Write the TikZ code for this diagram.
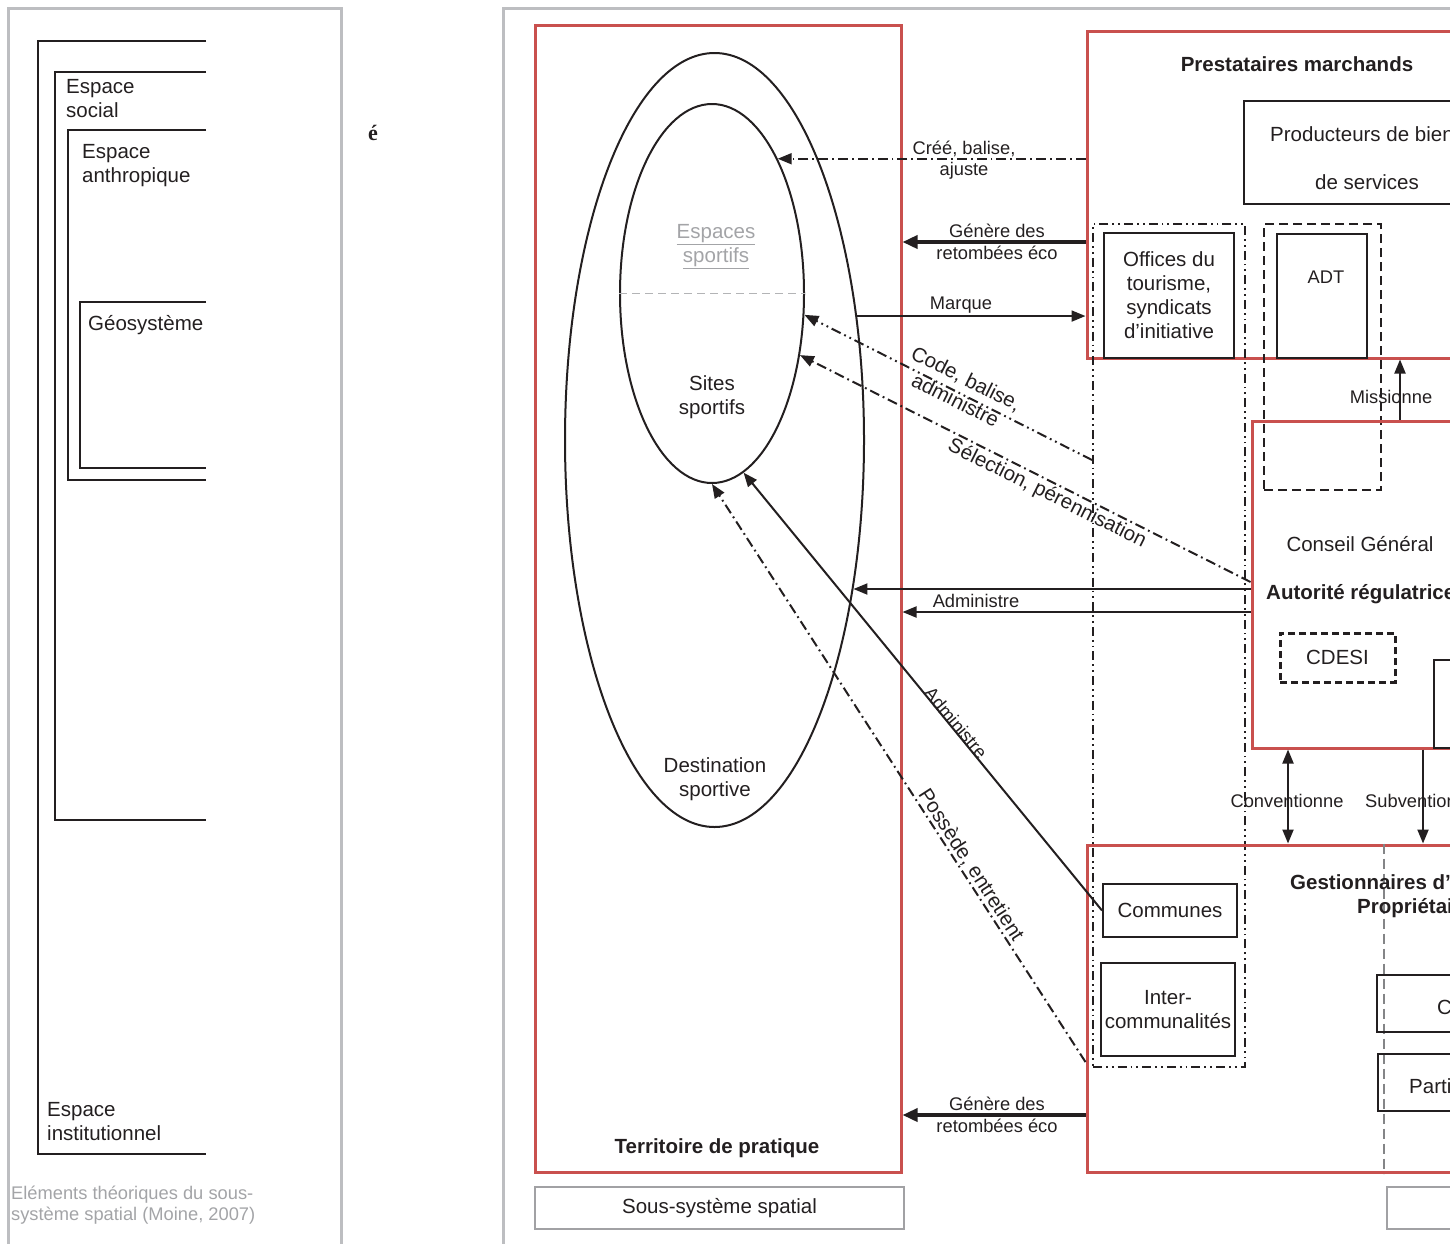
\documentclass[tikz,border=0pt]{standalone}
\usepackage{fontspec}
\setmainfont{Liberation Sans}
\newfontfamily\accentfont{Liberation Serif}
\usepackage{tikz}
\usepackage{xcolor}
\usetikzlibrary{arrows.meta,shapes.geometric}
\definecolor{MapRed}{HTML}{C9504E}
\definecolor{MapGrey}{HTML}{BDBEC1}
\definecolor{MapSoft}{HTML}{A3A4A7}
\definecolor{MapDash}{HTML}{B3B4B6}
\definecolor{MapInk}{HTML}{231F20}
\newcommand{\mainsize}{\fontsize{20.5}{24}\selectfont}
\newcommand{\labsize}{\fontsize{18.3}{21.5}\selectfont}

\begin{document}
\begin{tikzpicture}[
    x=1pt, y=-1pt,
    txt/.style={font=\mainsize, align=center, inner sep=0pt, text=MapInk},
    lab/.style={font=\labsize, align=center, inner sep=0pt, text=MapInk},
    titletxt/.style={txt, font=\mainsize\bfseries},
    frame/.style={draw=MapGrey, line width=3pt},
    greybox/.style={rectangle, draw=MapGrey!85!black, line width=2.2pt, inner sep=0pt},
    redbox/.style={rectangle, draw=MapRed, line width=3pt, inner sep=0pt},
    blackbox/.style={rectangle, draw=MapInk, line width=2pt, inner sep=0pt},
    spacebox/.style={draw=MapInk, line width=2pt},
    ring/.style={ellipse, draw=MapInk, line width=2pt, inner sep=0pt},
    dashbox/.style={blackbox, dash pattern=on 9pt off 5pt},
    thickdash/.style={blackbox, line width=3pt, dash pattern=on 7pt off 4pt},
    groupbox/.style={blackbox, dash pattern=on 9pt off 4pt on 1.8pt off 4pt on 1.8pt off 4pt},
    dashdot/.style={dash pattern=on 10pt off 4pt on 1.8pt off 4pt},
    dashdotdot/.style={dash pattern=on 10pt off 4pt on 1.8pt off 4pt on 1.8pt off 4pt},
    arrow/.style={-{Triangle[length=14pt,width=11pt]}, line width=2pt, draw=MapInk},
    bigarrow/.style={arrow, line width=3.5pt, -{Triangle[length=15pt,width=13pt]}}
]
\useasboundingbox (0,0) rectangle (1450,1243);
\clip (0,0) rectangle (1450,1243);

% left panel
\draw[frame] (8,1260) -- (8,8) -- (341,8) -- (341,1260);
\draw[spacebox] (206,41) -- (38,41) -- (38,1154) -- (206,1154);
\draw[spacebox] (206,72) -- (55,72) -- (55,820) -- (206,820);
\draw[spacebox] (206,130) -- (68,130) -- (68,480) -- (206,480);
\draw[spacebox] (206,302) -- (80,302) -- (80,468) -- (206,468);
\node[txt, align=left, anchor=west] (social) at (66,99) {Espace\\social};
\node[txt, align=left, anchor=west] (anthro) at (82,166) {Espace\\anthropique};
\node[txt, align=left, anchor=west] (geo) at (88,325) {Géosystème};
\node[txt, align=left, anchor=west] (instit) at (47,1122) {Espace\\institutionnel};
\node[lab, align=left, anchor=west, text=MapSoft] (moine) at (11,1205) {Eléments théoriques du sous-\\système spatial (Moine, 2007)};
\node[inner sep=0pt, text=MapInk, font=\accentfont\fontsize{22}{24}\selectfont\bfseries] (stray) at (373,133) {é};

% right panel
\draw[frame] (503,1260) -- (503,8) -- (1460,8);
\node[redbox, minimum width=366pt, minimum height=1147pt] (terr) at (718,598.5) {};
\node[titletxt] (terrtitle) at (717,1148) {Territoire de pratique};
\node[greybox, txt, minimum width=369pt, minimum height=42pt] (spatial) at (719.5,1208) {Sous-système spatial};
\node[greybox, minimum width=300pt, minimum height=42pt] (other) at (1537,1208) {};

\node[ring, minimum width=299pt, minimum height=774pt] (dest) at (714.5,440) {};
\node[ring, minimum width=184pt, minimum height=379pt] (sites) at (712,293.5) {};
\draw[draw=MapDash, line width=1.8pt, dash pattern=on 8pt off 5pt] (sites.west) -- (sites.east);
\node[txt, text=MapSoft] (espaces) at (716,247) {\underline{Espaces}\\\underline{sportifs}};
\node[txt] (sitestxt) at (712,397) {Sites\\sportifs};
\node[txt] (desttxt) at (715,779) {Destination\\sportive};

\node[redbox, minimum width=420pt, minimum height=327pt] (prest) at (1297,194.5) {};
\node[titletxt] (presttitle) at (1297,64) {Prestataires marchands};
\node[blackbox, minimum width=246pt, minimum height=103pt] (prod) at (1367,152.5) {};
\node[txt, anchor=west] (prodtxt) at (1270,134) {Producteurs de biens};
\node[txt] (prodtxtb) at (1367,182) {de services};

\node[groupbox, minimum width=152pt, minimum height=843pt] (grp) at (1169,645.5) {};
\node[blackbox, txt, minimum width=130pt, minimum height=125pt] (offices) at (1169,295.5) {Offices du\\tourisme,\\syndicats\\d’initiative};
\node[dashbox, minimum width=117pt, minimum height=266pt] (adtgrp) at (1322.5,357) {};
\node[blackbox, minimum width=90pt, minimum height=124pt] (adt) at (1322,296) {};
\node[lab] (adttxt) at (1326,277) {ADT};

\node[redbox, minimum width=350pt, minimum height=327pt] (cg) at (1427,584.5) {};
\node[txt] (cgtxt) at (1360,544) {Conseil Général};
\node[titletxt, anchor=west] (autorite) at (1266,594) {Autorité régulatrice};
\node[thickdash, txt, minimum width=115pt, minimum height=49pt] (cdesi) at (1337.5,657.5) {CDESI};
\node[blackbox, minimum width=100pt, minimum height=88pt] (cgside) at (1484,704) {};

\node[redbox, minimum width=513pt, minimum height=327pt] (gest) at (1343.5,1008.5) {};
\draw[draw=MapGrey!70!black, line width=2.2pt, dash pattern=on 10pt off 5pt] (gest.north -| 1384,0) -- (gest.south -| 1384,0);
\node[titletxt, anchor=west] (gesttitle) at (1290,884) {Gestionnaires d’espaces};
\node[titletxt, anchor=west] (gesttitleb) at (1357,908) {Propriétaires};
\node[blackbox, txt, minimum width=134pt, minimum height=53pt] (communes) at (1170,910.5) {Communes};
\node[blackbox, txt, minimum width=134pt, minimum height=93pt] (interco) at (1168,1009.5) {Inter-\\communalités};
\node[blackbox, minimum width=200pt, minimum height=57pt] (cbox) at (1477,1003.5) {};
\node[txt, anchor=west] (ctxt) at (1437,1007) {C};
\node[blackbox, minimum width=200pt, minimum height=57pt] (partbox) at (1478,1082.5) {};
\node[txt, anchor=west] (parttxt) at (1409,1086) {Parti};

% connectors
\draw[arrow, dashdot] (sites.64 -| prest.west) -- (sites.64);
\node[lab] (cree) at (964,160) {Créé, balise,\\ajuste};
\draw[bigarrow] (prest.west |- 0,242) -- (terr.east |- 0,242);
\node[lab] (genere) at (997,242) {Génère des\\retombées éco};
\draw[arrow] (dest.41.6) -- (dest.41.6 -| prest.west);
\node[lab] (marque) at (961,305) {Marque};
\draw[arrow, dashdotdot] (grp.west |- 0,460) -- (sites.-13.8);
\node[txt, rotate=-26.57] (code) at (961,389) {Code, balise,\\administre};
\draw[arrow, dashdot] (cg.west |- 0,582) -- (sites.-35.3);
\node[txt, rotate=-26.57] (selection) at (1047,494) {Sélection, pérennisation};
\draw[arrow] (dest.-47.3 -| cg.west) -- (dest.-47.3);
\draw[arrow] (cg.west |- 0,612) -- (terr.east |- 0,612);
\node[lab] (admin) at (976,601) {Administre};
\draw[arrow] (communes.west) -- (sites.-80.8);
\node[lab, rotate=-50.2] (adminb) at (956,723) {Administre};
\draw[arrow, dashdot] (gest.west |- 0,1062) -- (sites.south);
\node[txt, rotate=-57.1] (possede) at (971,865) {Possède, entretient};
\draw[bigarrow] (gest.west |- 0,1115) -- (terr.east |- 0,1115);
\node[lab] (generebis) at (997,1115) {Génère des\\retombées éco};
\draw[arrow] (cg.north -| 1400,0) -- (prest.south -| 1400,0);
\node[lab] (mission) at (1391,397) {Missionne};
\draw[arrow, {Triangle[length=14pt,width=11pt]}-{Triangle[length=14pt,width=11pt]}] (cg.south -| 1288,0) -- (gest.north -| 1288,0);
\node[lab] (convention) at (1287,801) {Conventionne};
\draw[arrow] (cg.south -| 1423,0) -- (gest.north -| 1423,0);
\node[lab, anchor=west] (subvention) at (1365,801) {Subventionne};
\end{tikzpicture}
\end{document}
